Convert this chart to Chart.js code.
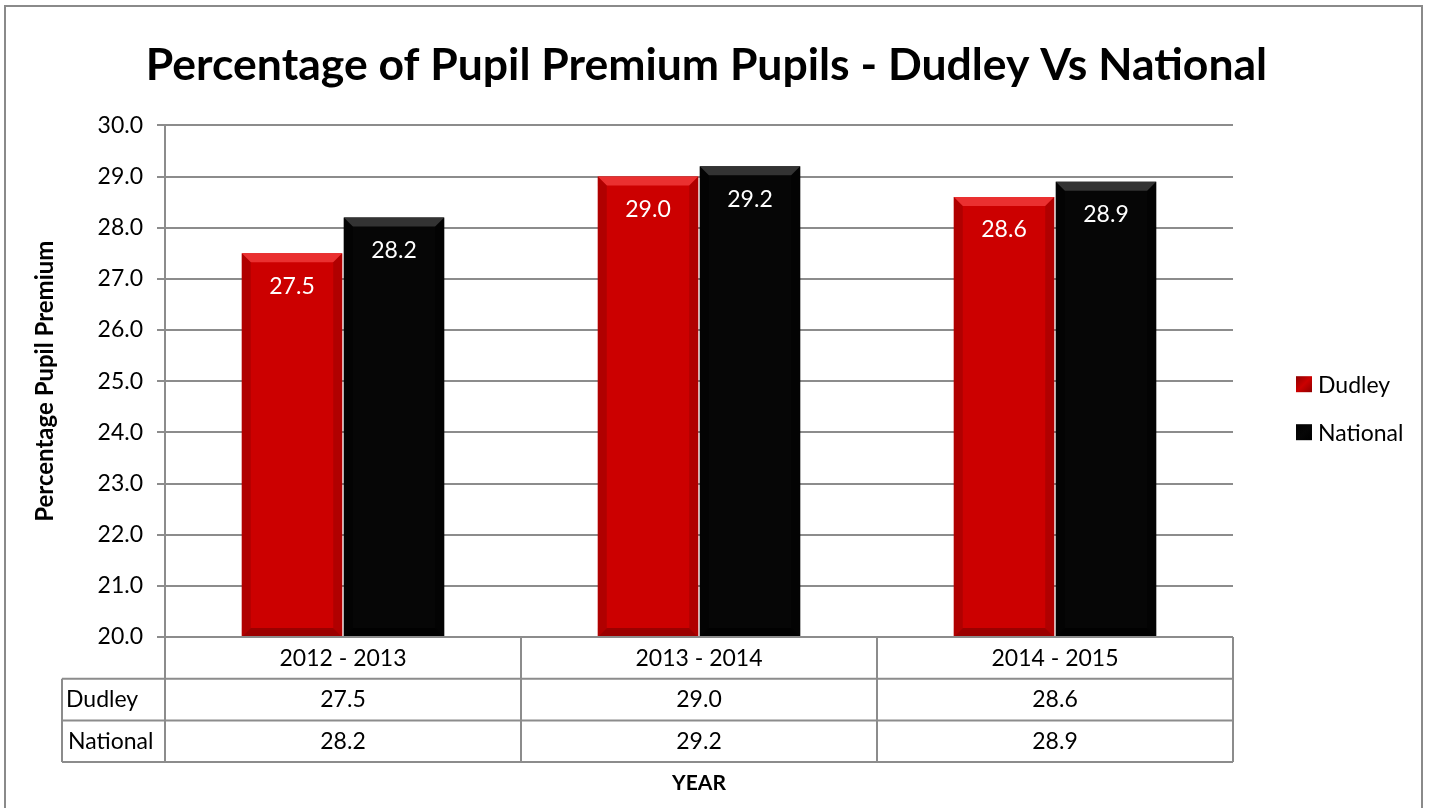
<!DOCTYPE html>
<html>
<head>
<meta charset="utf-8">
<script src="https://cdn.jsdelivr.net/npm/chart.js@4.4.0/dist/chart.umd.min.js"></script>
<style>
  html, body { margin: 0; padding: 0; background: #fff; }
  #wrap { width: 1429px; height: 808px; }
</style>
</head>
<body>
<div id="wrap"><canvas id="chart"></canvas></div>
<script>
// ---- data ----
const years = ['2012 - 2013', '2013 - 2014', '2014 - 2015'];
const seriesNames = ['Dudley', 'National'];
const dudley = [27.5, 29.0, 28.6];
const national = [28.2, 29.2, 28.9];
const yMin = 20, yMax = 30, yStep = 1;

const FONT = 'Lato, "Open Sans", sans-serif';
const GRID = '#8c8c8c';
const colors = {
    Dudley:   { face: '#cc0000', light: '#ea3030', dark: '#8e0000' },
    National: { face: '#060606', light: '#333333', dark: '#000000' }
};

// outer frame of the chart object
const framePlugin = {
    id: 'frame',
    beforeDraw(chart) {
        const ctx = chart.ctx;
        ctx.save();
        ctx.fillStyle = '#fff';
        ctx.fillRect(0, 0, chart.width, chart.height);
        ctx.strokeStyle = '#8a8a8a';
        ctx.lineWidth = 2;
        ctx.strokeRect(5, 6, chart.width - 12, chart.height + 20);
        ctx.restore();
    }
};

// bevel look + value labels on the bars
const bevelPlugin = {
    id: 'bevel',
    afterDatasetsDraw(chart) {
        const ctx = chart.ctx;
        const area = chart.chartArea;
        ctx.save();
        chart.data.datasets.forEach((ds, di) => {
            const c = colors[ds.label];
            chart.getDatasetMeta(di).data.forEach((bar, i) => {
                const l = bar.x - bar.width / 2, r = bar.x + bar.width / 2;
                const t = bar.y, b = Math.min(bar.base, area.bottom), bv = 9;
                // top edge
                ctx.fillStyle = c.light;
                ctx.beginPath();
                ctx.moveTo(l, t); ctx.lineTo(r, t); ctx.lineTo(r - bv, t + bv); ctx.lineTo(l + bv, t + bv);
                ctx.closePath(); ctx.fill();
                // side edges
                ctx.fillStyle = c.dark;
                ctx.globalAlpha = 0.45;
                ctx.beginPath();
                ctx.moveTo(l, t); ctx.lineTo(l + bv, t + bv); ctx.lineTo(l + bv, b - bv); ctx.lineTo(l, b);
                ctx.closePath(); ctx.fill();
                ctx.beginPath();
                ctx.moveTo(r, t); ctx.lineTo(r - bv, t + bv); ctx.lineTo(r - bv, b - bv); ctx.lineTo(r, b);
                ctx.closePath(); ctx.fill();
                // bottom edge
                ctx.globalAlpha = 0.8;
                ctx.beginPath();
                ctx.moveTo(l, b); ctx.lineTo(r, b); ctx.lineTo(r - bv, b - bv); ctx.lineTo(l + bv, b - bv);
                ctx.closePath(); ctx.fill();
                ctx.globalAlpha = 1;
                // value label
                ctx.fillStyle = '#ffffff';
                ctx.font = '23px ' + FONT;
                ctx.textAlign = 'center';
                ctx.textBaseline = 'middle';
                ctx.fillText(ds.data[i].toFixed(1), bar.x, t + 33);
            });
        });
        ctx.restore();
    }
};

// data table under the axis + legend on the right
const tablePlugin = {
    id: 'dataTable',
    afterDraw(chart) {
        const ctx = chart.ctx;
        const area = chart.chartArea;
        const xs = chart.scales.x;
        const n = years.length;
        const colW = (area.right - area.left) / n;
        const rowH = 41.7;
        const y0 = area.bottom;
        const leftX = area.left - 103;
        ctx.save();
        ctx.strokeStyle = GRID;
        ctx.lineWidth = 2;
        ctx.beginPath();
        // horizontal lines
        ctx.moveTo(area.left, y0); ctx.lineTo(area.right, y0);
        for (let k = 1; k <= 3; k++) {
            ctx.moveTo(leftX, y0 + rowH * k); ctx.lineTo(area.right, y0 + rowH * k);
        }
        // vertical lines
        ctx.moveTo(leftX, y0 + rowH); ctx.lineTo(leftX, y0 + rowH * 3);
        for (let k = 0; k <= n; k++) {
            const x = area.left + colW * k;
            ctx.moveTo(x, k === 0 ? area.top : y0); ctx.lineTo(x, y0 + rowH * 3);
        }
        ctx.stroke();

        ctx.fillStyle = '#000';
        ctx.font = '23px ' + FONT;
        ctx.textBaseline = 'middle';
        const rows = [dudley, national];
        rows.forEach((vals, ri) => {
            const cy = y0 + rowH * (ri + 1) + rowH / 2;
            ctx.textAlign = 'left';
            ctx.fillText(seriesNames[ri], leftX + 4 + ri * 2, cy);
            ctx.textAlign = 'center';
            vals.forEach((v, ci) => ctx.fillText(v.toFixed(1), xs.getPixelForValue(ci), cy));
        });

        // legend
        const lx = area.right + 63;
        const midY = (area.top + area.bottom) / 2 + 27;
        seriesNames.forEach((name, si) => {
            const cy = midY + (si - 0.5) * 48;
            const c = colors[name];
            const g = ctx.createLinearGradient(lx, cy - 8, lx + 16, cy + 8);
            g.addColorStop(0, c.dark);
            g.addColorStop(0.5, c.face);
            g.addColorStop(1, c.dark);
            ctx.fillStyle = g;
            ctx.fillRect(lx, cy - 8, 16, 16);
            ctx.fillStyle = '#000';
            ctx.textAlign = 'left';
            ctx.fillText(name, lx + 22, cy + 1);
        });
        ctx.restore();
    }
};

new Chart(document.getElementById('chart'), {
    type: 'bar',
    data: {
        labels: years,
        datasets: [
            { label: seriesNames[0], data: dudley, backgroundColor: colors.Dudley.face },
            { label: seriesNames[1], data: national, backgroundColor: colors.National.face }
        ]
    },
    options: {
        responsive: true, maintainAspectRatio: false, animation: false,
        layout: { padding: { left: 0, right: 16, top: 20, bottom: 0 } },
        datasets: { bar: { categoryPercentage: 0.573, barPercentage: 0.985 } },
        plugins: {
            legend: { display: false },
            tooltip: { enabled: false },
            title: {
                display: true,
                text: 'Percentage of Pupil Premium Pupils - Dudley Vs National',
                color: '#000',
                font: { family: FONT, size: 44.5, weight: 'bold', lineHeight: 1.2 },
                padding: { top: 19, bottom: 33 }
            }
        },
        scales: {
            x: {
                grid: { display: false, drawTicks: false },
                border: { display: false },
                ticks: { color: '#000', font: { family: FONT, size: 23 }, padding: 8 },
                title: {
                    display: true, text: 'YEAR', color: '#000',
                    font: { family: FONT, size: 21, weight: 'bold', lineHeight: 1.2 },
                    padding: { top: 0, bottom: 12 }
                },
                afterFit(scale) { scale.height = 171; }
            },
            y: {
                min: yMin, max: yMax,
                grid: { color: GRID, lineWidth: 2, tickLength: 8 },
                border: { color: GRID, width: 2 },
                ticks: {
                    stepSize: yStep, color: '#000', padding: 14,
                    font: { family: FONT, size: 23 },
                    callback: v => v.toFixed(1)
                },
                title: {
                    display: true, text: 'Percentage Pupil Premium', color: '#000',
                    font: { family: FONT, size: 24, weight: 'bold', lineHeight: 1.2 },
                    padding: { top: 31, bottom: 0 }
                },
                afterFit(scale) { scale.width = 165; }
            },
            // empty band on the right that holds the legend
            side: {
                position: 'right', display: true,
                grid: { display: false }, border: { display: false },
                ticks: { display: false },
                afterFit(scale) { scale.width = 180; }
            }
        }
    },
    plugins: [framePlugin, bevelPlugin, tablePlugin]
});
</script>
</body>
</html>
